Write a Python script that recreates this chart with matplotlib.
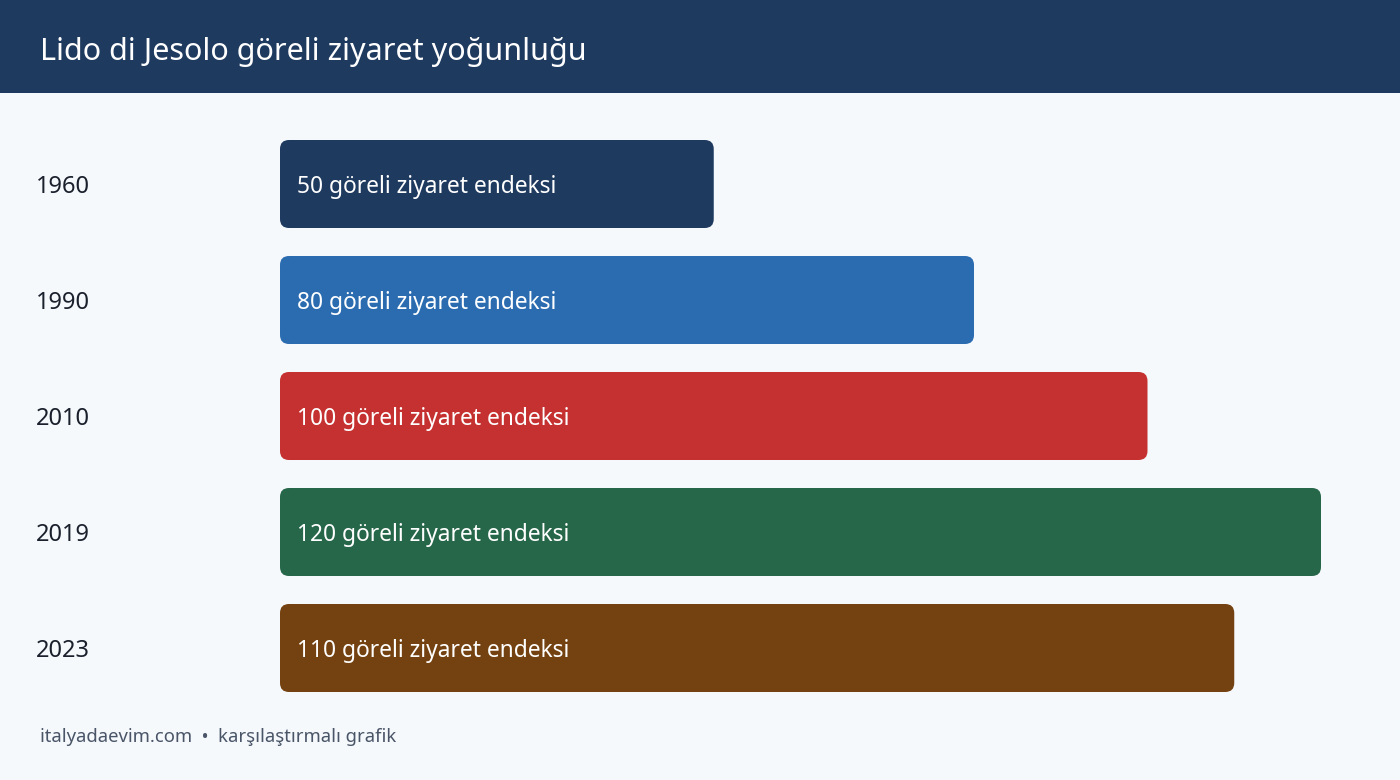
import matplotlib
matplotlib.use("Agg")
import matplotlib.pyplot as plt
from matplotlib.patches import FancyBboxPatch, Rectangle

years = ["1960", "1990", "2010", "2019", "2023"]
values = [50, 80, 100, 120, 110]
unit_label = "göreli ziyaret endeksi"
colors = ["#1f3a5f", "#2b6cb0", "#c53030", "#276749", "#744210"]
title = "Lido di Jesolo göreli ziyaret yoğunluğu"
footer = "italyadaevim.com  •  karşılaştırmalı grafik"

W, H = 1400, 780
plt.rcParams['font.family'] = ['Noto Sans', 'DejaVu Sans']
fig = plt.figure(figsize=(W / 100, H / 100), dpi=100)
fig.patch.set_facecolor("#f5f9fc")

# header band
fig.patches.append(Rectangle((0, 1 - 93 / H), 1, 93 / H, transform=fig.transFigure,
                             facecolor="#1f3a5f", edgecolor="none", zorder=0))
fig.text(40 / W, 1 - 52 / H, title, color="white", fontsize=22, va="center", ha="left")

# bar axes
left_px, right_px = 280, 1321
top_px, bot_px = 126, 706
ax = fig.add_axes([left_px / W, 1 - bot_px / H, (right_px - left_px) / W, (bot_px - top_px) / H])
ax.set_xlim(0, 120)
ax.set_ylim(len(years) - 0.5, -0.5)
ax.axis("off")
ax.patch.set_alpha(0)

bar_h = 88 / 116
px_x = (right_px - left_px) / 120.0   # px per x unit
px_y = 116.0                          # px per y unit
r_px = 9
aspect = px_x / px_y

for i, (y, v, c) in enumerate(zip(years, values, colors)):
    p = FancyBboxPatch((0, i - bar_h / 2), v, bar_h,
                       boxstyle=f"round,pad=0,rounding_size={r_px / px_x}",
                       mutation_aspect=aspect, facecolor=c, edgecolor="none")
    ax.add_patch(p)
    ax.annotate(f"{v} {unit_label}", xy=(0, i), xytext=(17 * 0.72, -3 * 0.72),
                textcoords="offset points", color="white", fontsize=16.4,
                va="center", ha="left")
    ax.annotate(y, xy=(0, i), xycoords=("figure fraction", "data"),
                xytext=(36 * 0.72, -3 * 0.72), textcoords="offset points",
                color="#1a202c", fontsize=17, va="center", ha="left")

fig.text(40 / W, 1 - 737 / H, footer, color="#4a5568", fontsize=13.3, va="center", ha="left")

fig.savefig("out.png", dpi=100, facecolor=fig.get_facecolor())
